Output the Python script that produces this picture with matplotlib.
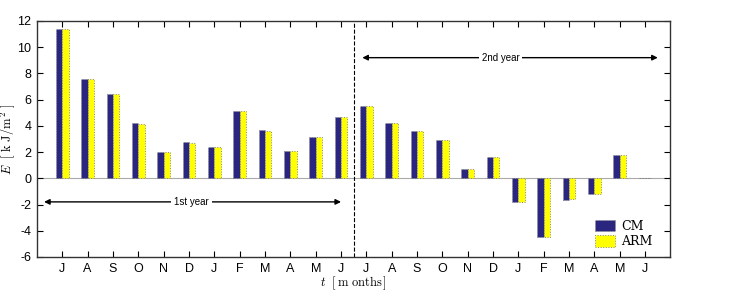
import matplotlib
matplotlib.use('Agg')
import matplotlib.pyplot as plt
import numpy as np

# datos
meses = ['J', 'A', 'S', 'O', 'N', 'D', 'J', 'F', 'M', 'A', 'M', 'J',
         'J', 'A', 'S', 'O', 'N', 'D', 'J', 'F', 'M', 'A', 'M', 'J']
cm = [11.4, 7.6, 6.4, 4.2, 2.0, 2.75, 2.4, 5.1, 3.65, 2.05, 3.15, 4.7,
      5.55, 4.25, 3.6, 2.9, 0.72, 1.62, -1.8, -4.45, -1.62, -1.22, 1.8, 0.02]
arm = [11.4, 7.6, 6.4, 4.15, 2.0, 2.7, 2.4, 5.1, 3.6, 2.05, 3.15, 4.7,
       5.55, 4.2, 3.6, 2.9, 0.72, 1.6, -1.8, -4.45, -1.6, -1.2, 1.8, 0.02]

plt.rcParams['mathtext.fontset'] = 'cm'
plt.rcParams['font.family'] = 'Liberation Sans'
plt.rcParams['axes.unicode_minus'] = False

fig = plt.figure(figsize=(7.47, 2.91), dpi=100)
ax = fig.add_axes([0.0495, 0.117, 0.848, 0.811])

x = np.arange(1, len(meses) + 1)
w = 0.25
ax.bar(x - w / 2, cm, w, color='#2a2680', edgecolor='#888888', linewidth=0.7,
       linestyle=':', label='CM', zorder=3)
ax.bar(x + w / 2, arm, w, color='#ffff00', edgecolor='#888888', linewidth=0.7,
       linestyle=':', label='ARM', zorder=3)

# linea del cero y separacion de años
ax.axhline(0, color='#aaaaaa', linewidth=0.8, zorder=1)
ax.axvline(12.5, color='black', linestyle='--', linewidth=0.8)

# flechas de los años
ax.annotate('', xy=(0.28, -1.8), xytext=(12.0, -1.8),
            arrowprops=dict(arrowstyle='<|-|>', color='black', lw=1.0,
                            mutation_scale=8, shrinkA=0, shrinkB=0))
ax.text(6.1, -1.8, '1st year', ha='center', va='center', fontsize=7,
        bbox=dict(facecolor='white', edgecolor='none', pad=2))
ax.annotate('', xy=(12.84, 9.2), xytext=(24.5, 9.2),
            arrowprops=dict(arrowstyle='<|-|>', color='black', lw=1.0,
                            mutation_scale=8, shrinkA=0, shrinkB=0))
ax.text(18.3, 9.2, '2nd year', ha='center', va='center', fontsize=7,
        bbox=dict(facecolor='white', edgecolor='none', pad=2))

ax.set_xlim(0, 25)
ax.set_ylim(-6, 12)
ax.set_xticks(x)
ax.set_xticklabels(meses)
ax.set_yticks(np.arange(-6, 13, 2))
ax.tick_params(direction='in', top=True, right=True, labelsize=9, length=4,
               pad=4)
for s in ax.spines.values():
    s.set_linewidth(1.0)
    s.set_color('#333333')

ax.set_xlabel(r'$t\ \ [\,\mathrm{m\ onths}\,]$', fontsize=9, labelpad=0)
ax.set_ylabel(r'$E\ \ [\ \mathrm{k\ J/m^{\,2}}\ ]$', fontsize=9, labelpad=0)

leg = ax.legend(loc='lower right', frameon=False, prop={'family': 'serif', 'size': 9},
                handlelength=1.6, handleheight=1.0, handletextpad=0.5,
                labelspacing=0.2, borderaxespad=0.3, bbox_to_anchor=(0.985, 0.0))

plt.savefig('out.png', dpi=100)
